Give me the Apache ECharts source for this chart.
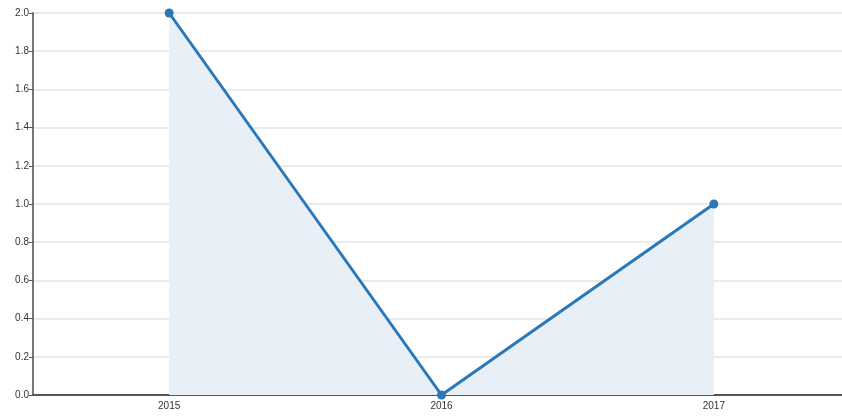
<!DOCTYPE html>
<html><head><meta charset="utf-8">
<script src="https://cdn.jsdelivr.net/npm/echarts@6/dist/echarts.min.js"></script>
<style>html,body{margin:0;padding:0;background:#fff;overflow:hidden}#c{width:850px;height:417px}</style>
</head><body><div id="c"></div>
<script>
const categories = ['2015', '2016', '2017'];
const values = [2, 0, 1];
const chart = echarts.init(document.getElementById('c'));
chart.setOption({
  animation: false,
  grid: { left: 33, right: 0, top: 13, bottom: 22, containLabel: false },
  xAxis: {
    type: 'category', data: categories, boundaryGap: true,
    axisLine: { lineStyle: { color: '#555', width: 2 } },
    axisTick: { show: false },
    axisLabel: { color: '#333', fontSize: 10, fontFamily: 'Liberation Sans, Arial', margin: 6 }
  },
  yAxis: {
    type: 'value', min: 0, max: 2, interval: 0.2,
    axisLine: { show: true, lineStyle: { color: '#777', width: 2 } },
    axisTick: { show: true, length: 4, lineStyle: { color: '#555' } },
    axisLabel: { color: '#333', fontSize: 10, fontFamily: 'Liberation Sans, Arial', margin: 4,
      formatter: v => v.toFixed(1) },
    splitLine: { lineStyle: { color: '#e3e3e3', width: 1.5 } }
  },
  series: [{
    type: 'line', data: values,
    symbol: 'circle', symbolSize: 9,
    lineStyle: { color: '#2a78b8', width: 3 },
    itemStyle: { color: '#2a78b8' },
    areaStyle: { color: '#e8eff7', opacity: 1 }
  }]
});
</script></body></html>
